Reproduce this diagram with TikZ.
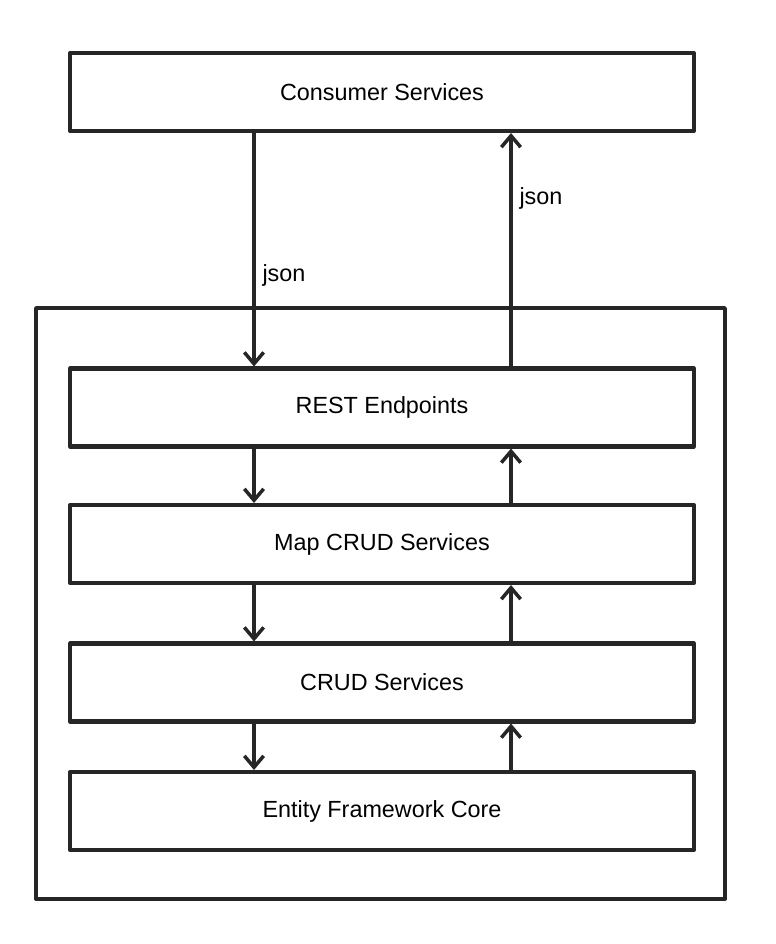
\documentclass[tikz,border=0pt]{standalone}
\usepackage{fontspec}
\setmainfont{Liberation Sans}
\usetikzlibrary{arrows.meta}
\definecolor{edge}{HTML}{262626}
\tikzset{
  every picture/.style={line join=round, >={Straight Barb[length=6.5pt,width=11pt]}},
  layer/.style={draw=edge, line width=2.3pt, minimum width=12.48cm, minimum height=1.56cm, inner sep=0pt, font=\fontsize{13.3}{15}\selectfont},
  frame/.style={draw=edge, line width=2.3pt, minimum width=13.78cm, minimum height=11.82cm, inner sep=0pt},
  flow/.style={->, draw=edge, line width=2pt},
  tag/.style={anchor=west, inner sep=1pt, xshift=0.1cm, font=\fontsize{13.3}{15}\selectfont},
}

\begin{document}
\begin{tikzpicture}[x=0.02cm,y=-0.02cm]
\useasboundingbox (0,0) rectangle (776,944);
\node[layer] (consumer) at (382,92) {Consumer Services};
\node[frame] (app) at (380.5,603.5) {};
\node[layer] (rest) at (382,407.5) {REST Endpoints};
\node[layer] (map) at (382,544) {Map CRUD Services};
\node[layer] (crud) at (382,682.5) {CRUD Services};
\node[layer] (ef) at (382,811) {Entity Framework Core};
\coordinate (dn) at (254,0);
\coordinate (up) at (511,0);
\draw[flow] (consumer.south -| dn) -- (rest.north -| dn) node[tag,pos=0.61] (jsonin) {json};
\draw[flow] (rest.north -| up) -- (consumer.south -| up) node[tag,pos=0.72] (jsonout) {json};
\draw[flow] (rest.south -| dn) -- (map.north -| dn);
\draw[flow] (map.north -| up) -- (rest.south -| up);
\draw[flow] (map.south -| dn) -- (crud.north -| dn);
\draw[flow] (crud.north -| up) -- (map.south -| up);
\draw[flow] (crud.south -| dn) -- (ef.north -| dn);
\draw[flow] (ef.north -| up) -- (crud.south -| up);
\end{tikzpicture}
\end{document}
